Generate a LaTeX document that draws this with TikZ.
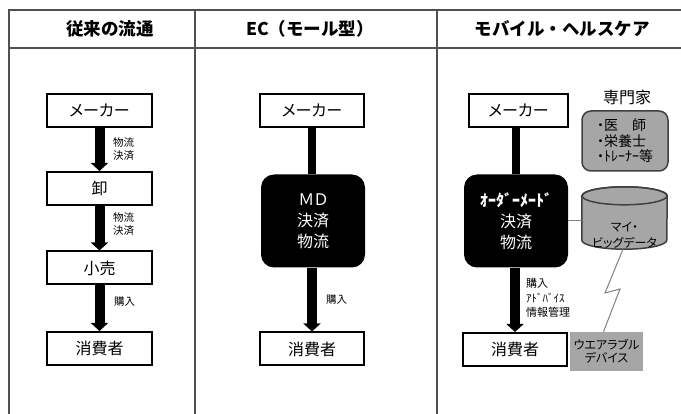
\documentclass[tikz,border=0pt]{standalone}
\usepackage{fontspec}
\setmainfont{Noto Sans CJK JP}[RawFeature=+palt]
\newfontfamily\fullw{Noto Sans CJK JP}
\usetikzlibrary{arrows.meta}
\definecolor{boxgray}{HTML}{A6A6A6}
\definecolor{edgegray}{HTML}{404040}
\definecolor{framegray}{HTML}{505050}
\begin{document}
\begin{tikzpicture}[x=1pt,y=-1pt,
  frameline/.style={draw=framegray,line width=1.5pt},
  head/.style={font=\fullw\fontsize{17.5}{17.5}\selectfont\bfseries,inner sep=0pt},
  wbox/.style={draw,line width=2pt,fill=white,minimum width=105pt,minimum height=33pt,inner sep=0pt,font=\fontsize{16}{16}\selectfont},
  bbox/.style={fill=black,rounded corners=13pt,text=white,align=center,minimum width=104pt,minimum height=93pt,inner sep=0pt,font=\fontsize{16}{21}\selectfont},
  flow/.style={line width=10pt,-{Triangle[length=8pt 0 0,width=17pt 0 0]}},
  link/.style={line width=8pt},
  lbl/.style={font=\fontsize{10.5}{13.5}\selectfont,align=left,anchor=west,inner sep=0pt},
  thinlink/.style={draw=gray,line width=1pt}]
\useasboundingbox (0,0) rectangle (681,414);
% frame
\draw[frameline] (9,414) -- (9,10) -- (681,10);
\draw[frameline] (9,48) -- (681,48);
\draw[frameline] (195,10) -- (195,414);
\draw[frameline] (437,10) -- (437,414);
% headers
\node[head] (h1) at (110,29) {従来の流通};
\node[head] (h2) at (310,29) {EC（モール型）};
\node[head] (h3) at (562,29) {モバイル・ヘルスケア};
% column 1
\node[wbox] (m1) at (99.5,110.5) {メーカー};
\node[wbox] (o1) at (99.5,188.5) {卸};
\node[wbox] (r1) at (99.5,268) {小売};
\node[wbox] (c1) at (99.5,348.5) {消費者};
\draw[flow] (m1.south) -- (o1.north);
\draw[flow] (o1.south) -- (r1.north);
\draw[flow] (r1.south) -- (c1.north);
\node[lbl] (l11) at (113,149) {物流\\決済};
\node[lbl] (l12) at (113,224) {物流\\決済};
\node[lbl] (l13) at (114,302) {購入};
% column 2
\node[wbox,minimum width=104pt] (m2) at (312,110.5) {メーカー};
\node[bbox] (b2) at (313,221) {ＭＤ\\決済\\物流};
\node[wbox,minimum width=104pt] (c2) at (312,349) {消費者};
\draw[link] (m2.south) -- (m2.south |- b2.north);
\draw[flow] (b2.south -| m2.south) -- (c2.north);
\node[lbl] (l21) at (326,300) {購入};
% column 3
\node[wbox,minimum width=99pt] (m3) at (518.5,110.5) {メーカー};
\node[bbox] (b3) at (516,221) {{\bfseries ｵｰﾀﾞｰﾒｰﾄﾞ}\\決済\\物流};
\node[wbox,minimum width=104pt] (c3) at (515,349.5) {消費者};
\draw[link] (m3.south -| 516,0) -- (b3.north);
\draw[flow] (b3.south -| 515,0) -- (c3.north);
\node[lbl,font=\fontsize{11}{14.5}\selectfont] (l31) at (526,298) {購入\\{\fullw ｱﾄﾞﾊﾞｲｽ}\\情報管理};
% experts
\node[font=\fontsize{16}{16}\selectfont,inner sep=0pt] (et) at (627,97) {専門家};
\node[draw=edgegray,line width=1.5pt,fill=boxgray,rounded corners=9pt,minimum width=86pt,minimum height=60pt,align=left,inner sep=0pt,font=\fontsize{14}{15.5}\selectfont] (ex) at (625,141) {・医　師\\・栄養士\\・ﾄﾚｰﾅｰ等};
% big data cylinder
\node[minimum width=85pt,minimum height=62pt,inner sep=0pt] (db) at (624.5,218) {};
\draw[draw=edgegray,line width=1.5pt,fill=boxgray]
  ([yshift=-9pt]db.north west) -- ([yshift=9pt]db.south west)
  arc[start angle=180,end angle=360,x radius=42.5pt,y radius=9pt]
  -- ([yshift=-9pt]db.north east)
  arc[start angle=0,end angle=180,x radius=42.5pt,y radius=9pt] -- cycle;
\draw[draw=edgegray,line width=1.5pt] ([yshift=-9pt]db.north) ellipse[x radius=42.5pt,y radius=9pt];
\node[align=center,inner sep=0pt,font=\fontsize{12}{16}\selectfont] (dbt) at (624.5,235) {マイ・\\ビッグデータ};
\draw[thinlink] (b3.east) -- (b3.east -| db.west);
% wearable
\node[fill=boxgray,minimum width=73pt,minimum height=39pt,inner sep=0pt,align=center,font=\fontsize{12}{13}\selectfont] (wr) at (606.5,351.5) {ウエアラブル\\デバイス};
\coordinate (z1) at (605,293);
\coordinate (z2) at (620,289);
\draw[thinlink] ([xshift=-1.5pt]db.south) -- (z1) -- (z2) -- ([xshift=-3pt]wr.north);
\end{tikzpicture}
\end{document}
